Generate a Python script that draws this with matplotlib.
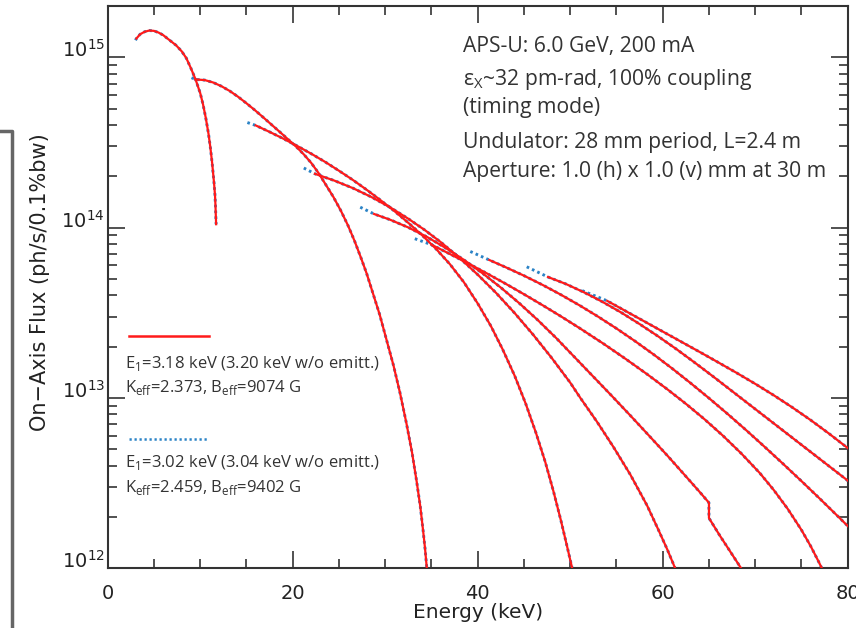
import matplotlib
matplotlib.use('Agg')
import matplotlib.pyplot as plt
import numpy as np
from matplotlib.lines import Line2D
from matplotlib.ticker import MultipleLocator, LogLocator, FuncFormatter, NullFormatter

# tuning curves for the odd harmonics 1..17
# energy in keV, flux given as log10(ph/s/0.1%bw)
h1_e = [3.1, 3.5, 4.0, 4.5, 5.0, 5.5, 6.0, 6.7, 7.4, 8.0, 8.5, 9.0, 9.5, 10.0, 10.3, 10.6, 10.9, 11.1, 11.3,
        11.5, 11.6, 11.65, 11.72]
h1_lf = [15.11, 15.135, 15.15, 15.157, 15.155, 15.145, 15.13, 15.10, 15.07, 15.035, 14.995, 14.935, 14.87, 14.79,
         14.725, 14.645, 14.55, 14.47, 14.375, 14.26, 14.19, 14.13, 14.02]

h3_e = [9.5, 10.5, 11.4, 12.3, 13.2, 14.1, 15.0, 15.9, 16.8, 17.7, 18.6, 19.5, 20.4, 21.2, 22.0, 22.8, 23.6,
        24.4, 25.2, 26.0, 26.7, 27.4, 28.0, 28.7, 29.4, 30.1, 30.9, 31.6, 32.3, 32.9, 33.4, 33.8, 34.1, 34.3, 34.5]
h3_lf = [14.87, 14.866, 14.852, 14.83, 14.802, 14.768, 14.73, 14.69, 14.648, 14.605, 14.562, 14.518, 14.474,
         14.43, 14.38, 14.32, 14.25, 14.18, 14.10, 14.01, 13.92, 13.82, 13.73, 13.61, 13.49, 13.35, 13.19, 13.03,
         12.85, 12.68, 12.51, 12.36, 12.22, 12.12, 12.0]

h5_e = [16.0, 17.5, 19.0, 20.4, 22.0, 23.5, 25.0, 26.5, 28.0, 29.4, 31.0, 32.5, 34.0, 35.5, 37.0, 38.5, 40.0,
        41.4, 42.7, 44.0, 45.2, 46.3, 47.3, 48.2, 49.0, 49.7, 50.3]
h5_lf = [14.60, 14.562, 14.522, 14.482, 14.434, 14.386, 14.334, 14.28, 14.222, 14.165, 14.097, 14.028, 13.955,
         13.875, 13.785, 13.68, 13.555, 13.425, 13.285, 13.13, 12.965, 12.795, 12.625, 12.45, 12.28, 12.12, 11.98]

h7_e = [22.4, 24.5, 26.5, 28.5, 30.5, 32.5, 34.3, 36.0, 38.0, 40.0, 42.0, 44.0, 46.0, 48.0, 50.0, 51.1, 52.9,
        54.7, 56.5, 58.3, 59.5, 60.5, 61.5]
h7_lf = [14.316, 14.276, 14.232, 14.18, 14.12, 14.052, 13.985, 13.915, 13.824, 13.724, 13.616, 13.498, 13.371,
         13.235, 13.09, 13.0, 12.86, 12.71, 12.55, 12.37, 12.23, 12.11, 11.98]

h9_e = [28.8, 30.5, 32.5, 34.5, 36.5, 38.5, 40.5, 42.5, 44.5, 46.5, 48.5, 50.5, 52.5, 54.5, 56.5, 58.5, 60.5,
        62.5, 64.0, 65.0, 65.0, 66.2, 67.4, 68.6]
h9_lf = [14.08, 14.047, 14.001, 13.946, 13.882, 13.811, 13.733, 13.648, 13.556, 13.457, 13.351, 13.238, 13.125,
         13.012, 12.897, 12.78, 12.662, 12.54, 12.448, 12.385, 12.295, 12.19, 12.09, 11.99]

h11_e = [35.0, 37.0, 39.0, 41.0, 43.0, 45.0, 47.0, 49.0, 51.1, 53.5, 56.0, 58.3, 60.5, 62.5, 64.5, 66.5, 68.5,
         70.5, 72.0, 73.5, 75.0, 76.0, 76.8, 77.3]
h11_lf = [13.90, 13.845, 13.789, 13.731, 13.671, 13.609, 13.545, 13.479, 13.407, 13.322, 13.229, 13.14, 13.051,
          12.966, 12.876, 12.779, 12.674, 12.559, 12.46, 12.35, 12.225, 12.13, 12.045, 11.99]

h13_e = [41.25, 43.0, 45.0, 47.0, 49.0, 51.0, 53.0, 55.0, 57.0, 59.0, 61.0, 63.0, 65.0, 67.0, 69.0, 71.0, 73.0,
         75.0, 77.0, 79.0, 80.5]
h13_lf = [13.81, 13.768, 13.718, 13.664, 13.606, 13.544, 13.478, 13.408, 13.334, 13.256, 13.174, 13.088, 12.999,
          12.907, 12.812, 12.714, 12.614, 12.512, 12.408, 12.302, 12.222]

h15_e = [47.6, 49.5, 51.5, 53.5, 55.5, 57.5, 59.5, 61.5, 63.5, 65.5, 67.5, 69.5, 71.5, 73.5, 75.5, 77.5, 79.5, 80.5]
h15_lf = [13.71, 13.67, 13.62, 13.564, 13.502, 13.434, 13.362, 13.286, 13.206, 13.124, 13.04, 12.956, 12.872,
          12.788, 12.704, 12.62, 12.536, 12.494]

h17_e = [54.0, 56.0, 58.0, 60.0, 62.0, 64.0, 66.0, 68.0, 70.0, 72.0, 74.0, 76.0, 78.0, 80.5]
h17_lf = [13.57, 13.51, 13.45, 13.39, 13.33, 13.27, 13.209, 13.147, 13.083, 13.016, 12.945, 12.87, 12.79, 12.685]

# the E1=3.02 keV set (dotted) starts a little lower in energy, then runs under the solid one
blue_start_e = [3.0, 9.06, 15.1, 21.2, 27.3, 33.2, 39.2, 45.3, 51.3]
blue_start_lf = [15.10, 14.88, 14.617, 14.35, 14.12, 13.935, 13.86, 13.77, 13.63]

curves_e = [h1_e, h3_e, h5_e, h7_e, h9_e, h11_e, h13_e, h15_e, h17_e]
curves_lf = [h1_lf, h3_lf, h5_lf, h7_lf, h9_lf, h11_lf, h13_lf, h15_lf, h17_lf]

info_lines = ['APS-U: 6.0 GeV, 200 mA',
              'ε$_\\mathregular{X}$~32 pm-rad, 100% coupling',
              '(timing mode)',
              'Undulator: 28 mm period, L=2.4 m',
              'Aperture: 1.0 (h) x 1.0 (v) mm at 30 m']
red_label = ['E$_\\mathregular{1}$=3.18 keV (3.20 keV w/o emitt.)',
             'K$_\\mathregular{eff}$=2.373, B$_\\mathregular{eff}$=9074 G']
blue_label = ['E$_\\mathregular{1}$=3.02 keV (3.04 keV w/o emitt.)',
              'K$_\\mathregular{eff}$=2.459, B$_\\mathregular{eff}$=9402 G']

RED = '#ff1a1a'
BLUE = '#2b83c6'
W, H = 856, 628

plt.rcParams['font.family'] = 'DejaVu Sans'

fig = plt.figure(figsize=(W / 100, H / 100), dpi=100)
ax = fig.add_axes([107.7 / W, 1 - 568.3 / H, 740 / W, 562.3 / H])

for e, lf, be, blf in zip(curves_e, curves_lf, blue_start_e, blue_start_lf):
    ax.plot([be] + e, 10 ** np.array([blf] + lf), color=BLUE, lw=2.1, ls=(0, (0.9, 1.1)), zorder=2)
    ax.plot(e, 10 ** np.array(lf), color=RED, lw=1.6, zorder=3)

ax.set_yscale('log')
ax.set_xlim(0, 80)
ax.set_ylim(1e12, 2e15)
ax.xaxis.set_major_locator(MultipleLocator(20))
ax.xaxis.set_minor_locator(MultipleLocator(5))
ax.yaxis.set_major_locator(LogLocator(base=10))
ax.yaxis.set_minor_locator(LogLocator(base=10, subs=range(2, 10)))
ax.yaxis.set_minor_formatter(NullFormatter())
ax.yaxis.set_major_formatter(FuncFormatter(lambda v, p: r'$\mathdefault{10^{%d}}$' % round(np.log10(v))))
ax.tick_params(which='both', direction='in', top=True, right=True, width=1.2, color='#333333')
ax.tick_params(which='major', length=12)
ax.tick_params(which='minor', length=6.5)
ax.tick_params(axis='x', labelsize=14, pad=11, labelcolor='#222222')
ax.tick_params(axis='y', labelsize=14, pad=2, labelcolor='#222222')
for lab in ax.get_yticklabels():
    lab.set_va('baseline')
for s in ax.spines.values():
    s.set_linewidth(1.5)
    s.set_color('#333333')

fig.text(478 / W, 1 - 612 / H, 'Energy (keV)', fontsize=14.5, ha='center', va='center', color='#222222')
fig.text(40 / W, 1 - 282 / H, 'On\u2212Axis Flux (ph/s/0.1%bw)', fontsize=15, rotation=90,
         ha='center', va='center', color='#222222')

# run parameters, upper right
for txt, yb in zip(info_lines, [52, 85, 113, 148, 177]):
    fig.text(463 / W, 1 - yb / H, txt, fontsize=15.2, family='Open Sans', color='#333333', va='baseline')

# legend: sample line, then two lines of text under it
fig.add_artist(Line2D([129 / W, 209 / W], [1 - 336 / H, 1 - 336 / H], color=RED, lw=1.8))
fig.add_artist(Line2D([129 / W, 209 / W], [1 - 439 / H, 1 - 439 / H], color=BLUE, lw=1.8, ls=(0, (0.9, 1.1))))
for txt, yb in zip(red_label + blue_label, [368, 392, 467, 492]):
    fig.text(125 / W, 1 - yb / H, txt, fontsize=12, family='Open Sans', color='#333333', va='baseline')

# bracket left over from the slide
fig.add_artist(Line2D([0, 12 / W, 12 / W], [1 - 131 / H, 1 - 131 / H, 0], color='#666666', lw=2.5))

fig.savefig('out.png', dpi=100)
